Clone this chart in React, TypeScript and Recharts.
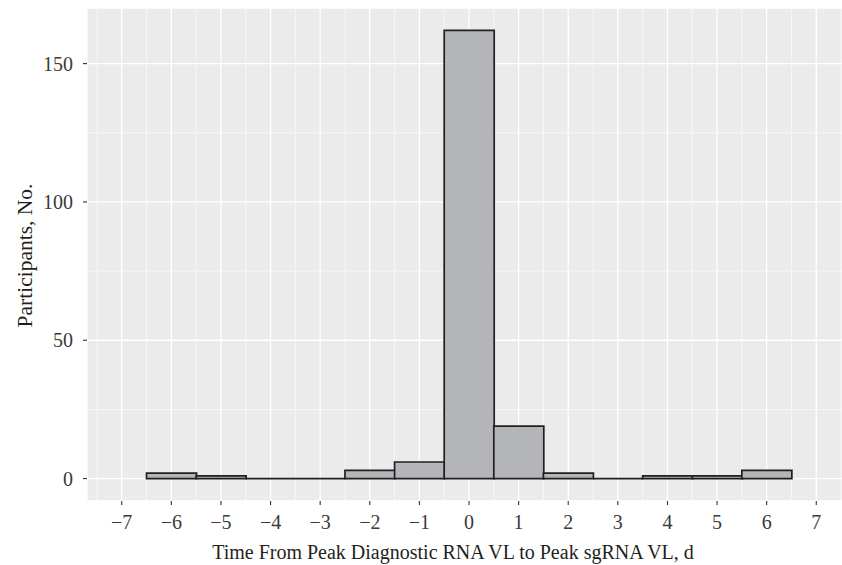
import { ComposedChart, Bar, XAxis, YAxis, CartesianGrid } from "recharts";

// histogram bins (centre, day) and participant counts
const days = [-6, -5, -4, -3, -2, -1, 0, 1, 2, 3, 4, 5, 6];
const counts = [2, 1, 0, 0, 3, 6, 162, 19, 2, 0, 1, 1, 3];

const xTicks = [-7, -6, -5, -4, -3, -2, -1, 0, 1, 2, 3, 4, 5, 6, 7];
const yTicks = [0, 50, 100, 150];
const xMinor = [-7.5, -6.5, -5.5, -4.5, -3.5, -2.5, -1.5, -0.5, 0.5, 1.5, 2.5, 3.5, 4.5, 5.5, 6.5, 7.5];
const yMinor = [25, 75, 125];

const xDomain = [-7.7, 7.7];
const yDomain = [-8.1, 170.1];

const data = days.map((d, i) => ({ day: d, count: counts[i] }));

const FONT = '"Liberation Serif", "DejaVu Serif", serif';
const fmt = (v: number) => String(v).replace("-", "\u2212");

// minor grid positions, same linear mapping as the axes
const minorY = ({ offset }: any) =>
    yMinor.map(v => offset.top + offset.height * (yDomain[1] - v) / (yDomain[1] - yDomain[0]));
const minorX = ({ offset }: any) =>
    xMinor.map(v => offset.left + offset.width * (v - xDomain[0]) / (xDomain[1] - xDomain[0]));

// bar drawn as a path so that empty bins still show as a line on the baseline
const HistBar = (props: any) => {
    const { x, y, width, height } = props;
    const d = `M${x},${y + height} L${x},${y} L${x + width},${y} L${x + width},${y + height} Z`;
    return <path d={d} fill="#B4B5B9" stroke="#231F20" strokeWidth={1.7} />;
};

export default function App() {
    return (
        // fixed frame so the panel can run past the right edge without scrollbars
        <div style={{ position: "fixed", left: 0, top: 0, width: 842, height: 565, padding: "8px 0 0 8px",
                      boxSizing: "border-box", overflow: "hidden", background: "#fff", fontFamily: FONT }}>
            <ComposedChart width={844} height={557} data={data}
                           margin={{ top: 0, right: 1, bottom: 0, left: 0 }}
                           barCategoryGap={0} barGap={0}>
                <CartesianGrid fill="#EBEBEB" fillOpacity={1} stroke="#FFFFFF" strokeWidth={1.3} />
                <CartesianGrid fill="none" stroke="#FFFFFF" strokeWidth={0.6}
                               horizontalCoordinatesGenerator={minorY}
                               verticalCoordinatesGenerator={minorX} />
                <XAxis dataKey="day"
                       type="number"
                       domain={xDomain}
                       ticks={xTicks}
                       interval={0}
                       tickFormatter={fmt}
                       height={64}
                       axisLine={false}
                       tickSize={4}
                       tickMargin={10}
                       tickLine={{ stroke: "#333333", strokeWidth: 1.1 }}
                       tick={{ fill: "#3A3A3A", fontSize: 20, fontFamily: FONT }}
                       label={{
                           content: ({ viewBox }: any) => (
                               <text x={445} y={viewBox.y + 58}
                                     textAnchor="middle" fill="#231F20" fontSize={20} fontFamily={FONT}>
                                   Time From Peak Diagnostic RNA VL to Peak sgRNA VL, d
                               </text>
                           ),
                       }} />
                <YAxis type="number"
                       domain={yDomain}
                       ticks={yTicks}
                       width={79}
                       axisLine={false}
                       tickSize={4}
                       tickMargin={10}
                       tickLine={{ stroke: "#333333", strokeWidth: 1.1 }}
                       tick={{ fill: "#3A3A3A", fontSize: 20, fontFamily: FONT }}
                       label={{
                           content: ({ viewBox }: any) => {
                               const cx = 17;
                               const cy = viewBox.y + viewBox.height / 2 + 1;
                               return (
                                   <text x={cx} y={cy} transform={`rotate(-90 ${cx} ${cy})`}
                                         textAnchor="middle" dominantBaseline="central"
                                         fill="#231F20" fontSize={21.5} fontFamily={FONT}>
                                       Participants, No.
                                   </text>
                               );
                           },
                       }} />
                <Bar dataKey="count" shape={HistBar} isAnimationActive={false} />
            </ComposedChart>
        </div>
    );
}
